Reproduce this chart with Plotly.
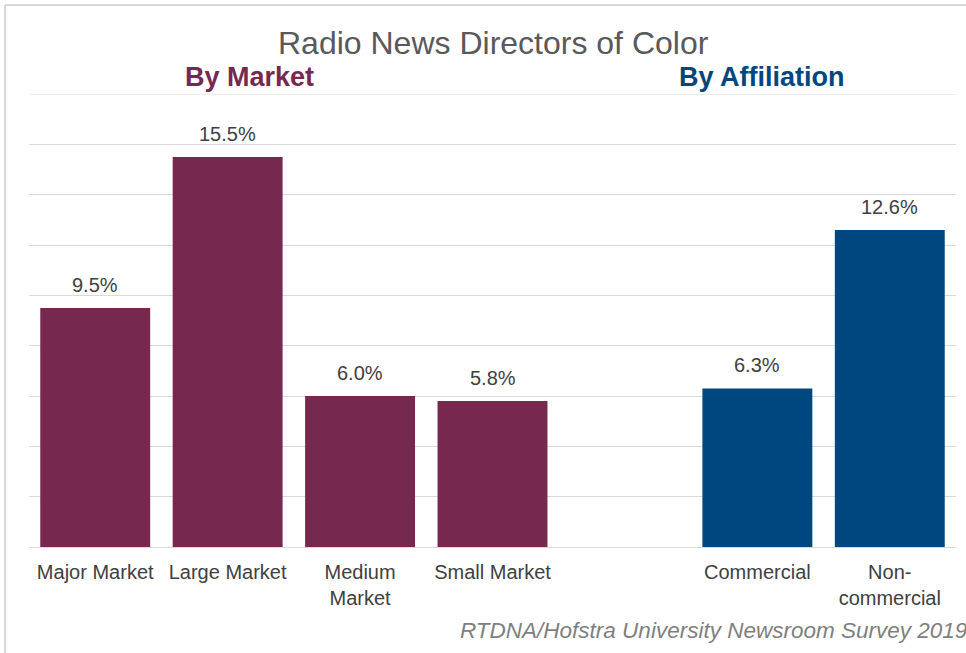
import plotly.graph_objects as go

# Survey results, share of radio news directors who are people of color (%)
market_labels = ["Major Market", "Large Market", "Medium<br>Market", "Small Market"]
market_values = [9.5, 15.5, 6.0, 5.8]
affiliation_labels = ["Commercial", "Non-<br>commercial"]
affiliation_values = [6.3, 12.6]
spacer = [" "]  # empty slot separating the two groups

categories = market_labels + spacer + affiliation_labels

Y_MAX = 18
Y_STEP = 2

MAROON = "#76284F"
NAVY = "#00467F"
GRID = "#d9d9d9"
TEXT = "#404040"
FONT = "Liberation Sans, Arial, sans-serif"

W, H = 966, 653
L, R, T, B = 29, 10, 94, 106
PW, PH = W - L - R, H - T - B


def px_x(px):
    return (px - L) / PW


def px_y(py):
    return 1 - (py - T) / PH


fig = go.Figure()
fig.add_trace(go.Bar(x=market_labels, y=market_values, marker_color=MAROON,
                     marker_line_width=0, hoverinfo="skip"))
fig.add_trace(go.Bar(x=affiliation_labels, y=affiliation_values, marker_color=NAVY,
                     marker_line_width=0, hoverinfo="skip"))

annotations = []
for lab, val in zip(market_labels + affiliation_labels, market_values + affiliation_values):
    annotations.append(dict(x=lab, y=val, xref="x", yref="y", text=f"{val:.1f}%",
                            showarrow=False, yanchor="bottom", yshift=10,
                            font=dict(family=FONT, size=20, color=TEXT)))

annotations += [
    dict(x=px_x(493), y=px_y(43), xref="paper", yref="paper", text="Radio News Directors of Color",
         showarrow=False, xanchor="center", yanchor="middle",
         font=dict(family=FONT, size=32, color="#595959")),
    dict(x=px_x(249), y=px_y(77), xref="paper", yref="paper", text="<b>By Market</b>",
         showarrow=False, xanchor="center", yanchor="middle",
         font=dict(family=FONT, size=27, color=MAROON)),
    dict(x=px_x(762), y=px_y(77), xref="paper", yref="paper", text="<b>By Affiliation</b>",
         showarrow=False, xanchor="center", yanchor="middle",
         font=dict(family=FONT, size=27, color=NAVY)),
    dict(x=px_x(458), y=px_y(630), xref="paper", yref="paper",
         text="<i>RTDNA/Hofstra University Newsroom Survey 2019</i>",
         showarrow=False, xanchor="left", yanchor="middle",
         font=dict(family=FONT, size=22.5, color="#7f7f7f")),
]

shapes = [
    # top gridline at the axis maximum
    dict(type="line", xref="paper", yref="y", x0=0, x1=1, y0=Y_MAX, y1=Y_MAX,
         line=dict(color=GRID, width=1), layer="below"),
    # light frame around the chart
    dict(type="line", xref="paper", yref="paper", x0=px_x(5), x1=px_x(970),
         y0=px_y(5), y1=px_y(5), line=dict(color=GRID, width=2)),
    dict(type="line", xref="paper", yref="paper", x0=px_x(5), x1=px_x(5),
         y0=px_y(5), y1=px_y(660), line=dict(color=GRID, width=2)),
]

fig.update_layout(
    width=W, height=H,
    margin=dict(l=L, r=R, t=T, b=B),
    paper_bgcolor="white", plot_bgcolor="white",
    showlegend=False,
    bargap=0.17,
    barmode="overlay",
    annotations=annotations,
    shapes=shapes,
    xaxis=dict(type="category", categoryorder="array", categoryarray=categories,
               tickfont=dict(family=FONT, size=20, color=TEXT),
               showgrid=False, showline=False, ticks="", ticklabelstandoff=11,
               fixedrange=True),
    yaxis=dict(range=[0, Y_MAX], dtick=Y_STEP, showticklabels=False, showgrid=True,
               gridcolor=GRID, gridwidth=1, zeroline=True, zerolinecolor=GRID,
               zerolinewidth=1, showline=False, fixedrange=True),
)

fig.write_html("out.html", config={"displayModeBar": False})
